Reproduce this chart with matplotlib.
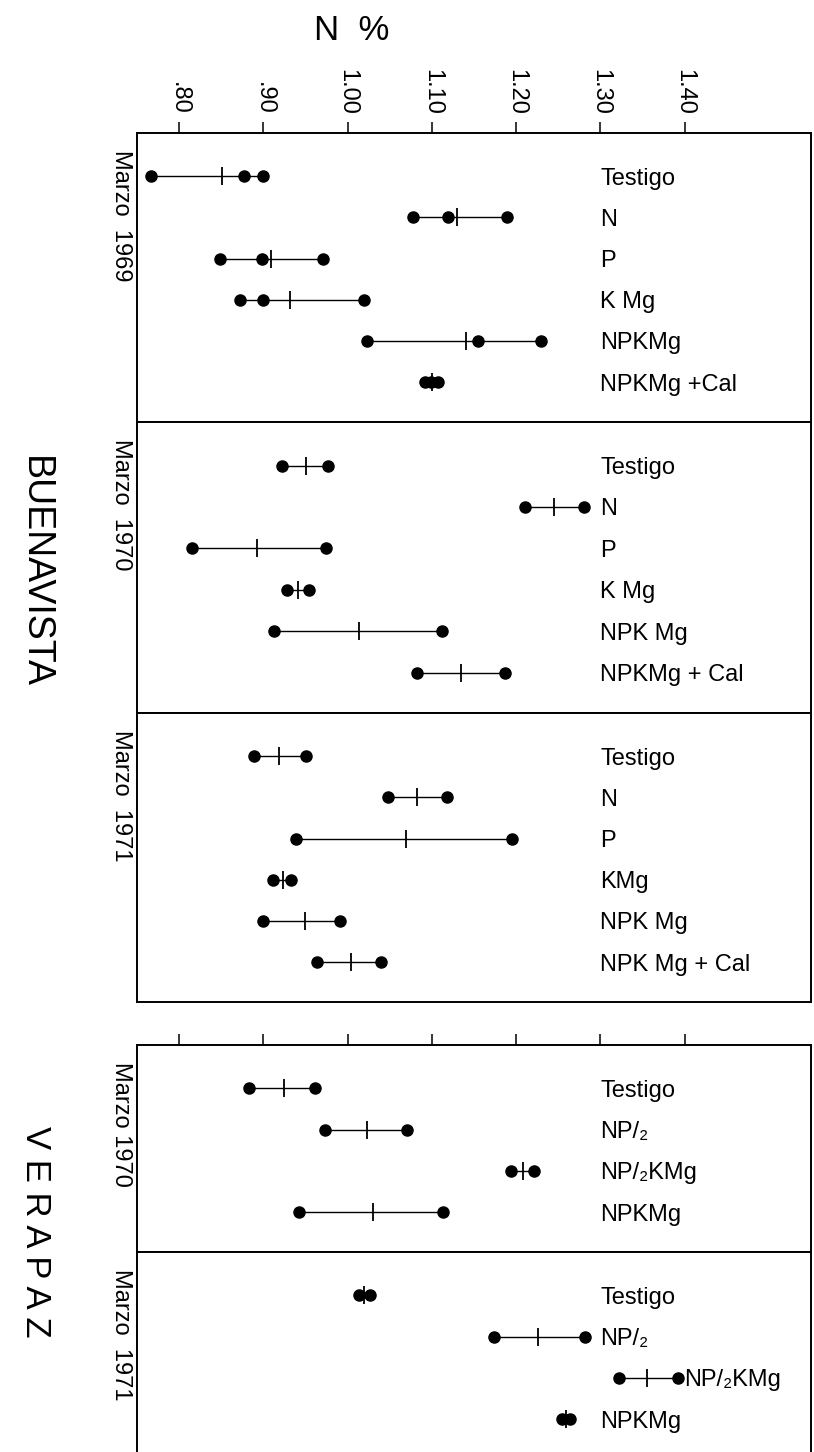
import matplotlib.pyplot as plt

plt.rcParams['font.family'] = ['Liberation Sans', 'DejaVu Sans']

# -----------------------------------------------------------------------------
# data (N % in leaves)

tick_values = [0.80, 0.90, 1.00, 1.10, 1.20, 1.30, 1.40]
tick_labels = ['.80', '.90', '1.00', '1.10', '1.20', '1.30', '1.40']

# Buenavista, Marzo 1969 (three replicates per treatment)
bv69_labels = ['Testigo', 'N', 'P', 'K Mg', 'NPKMg', 'NPKMg +Cal']
bv69_points = [[0.767, 0.877, 0.899],
               [1.078, 1.119, 1.189],
               [0.849, 0.898, 0.971],
               [0.872, 0.900, 1.019],
               [1.023, 1.155, 1.230],
               [1.092, 1.099, 1.107]]
bv69_means = [0.851, 1.130, 0.909, 0.932, 1.140, 1.100]

# Buenavista, Marzo 1970
bv70_labels = ['Testigo', 'N', 'P', 'K Mg', 'NPK Mg', 'NPKMg + Cal']
bv70_points = [[0.922, 0.977],
               [1.210, 1.281],
               [0.815, 0.974],
               [0.928, 0.954],
               [0.913, 1.112],
               [1.082, 1.187]]
bv70_means = [0.950, 1.245, 0.893, 0.941, 1.014, 1.134]

# Buenavista, Marzo 1971
bv71_labels = ['Testigo', 'N', 'P', 'KMg', 'NPK Mg', 'NPK Mg + Cal']
bv71_points = [[0.889, 0.950],
               [1.048, 1.118],
               [0.939, 1.195],
               [0.912, 0.933],
               [0.899, 0.991],
               [0.964, 1.040]]
bv71_means = [0.919, 1.082, 1.069, 0.923, 0.949, 1.004]

# Verapaz, Marzo 1970
vp70_labels = ['Testigo', 'NP/\u2082', 'NP/\u2082KMg', 'NPKMg']
vp70_points = [[0.883, 0.961],
               [0.973, 1.070],
               [1.194, 1.221],
               [0.942, 1.113]]
vp70_means = [0.924, 1.023, 1.208, 1.030]

# Verapaz, Marzo 1971
vp71_labels = ['Testigo', 'NP/\u2082', 'NP/\u2082KMg', 'NPKMg']
vp71_points = [[1.014, 1.027],
               [1.174, 1.282],
               [1.322, 1.392],
               [1.255, 1.264]]
vp71_means = [1.020, 1.226, 1.355, 1.259]


# -----------------------------------------------------------------------------
# figure

W_PX = 814
H_PX = 1452
fig = plt.figure(figsize=(W_PX / 100, H_PX / 100), dpi=100)

LEFT = 137 / W_PX
WIDTH = (811 - 137) / W_PX


def make_axes(top, bottom):
    return fig.add_axes([LEFT, 1 - bottom / H_PX, WIDTH, (bottom - top) / H_PX])


def draw_panel(ax, labels, points, means, ticks='none'):
    n = len(labels)
    for i in range(n):
        pts = points[i]
        ax.plot([min(pts), max(pts)], [i, i], color='black', lw=1.0, zorder=2)
        ax.plot(pts, [i] * len(pts), 'o', color='black', ms=8, zorder=3)
        ax.plot([means[i]], [i], marker='|', color='black', ms=13, mew=1.3, zorder=4)
        # label sits at 1.30 unless the bar runs past it
        lx = max(1.30, max(pts) + 0.008)
        ax.text(lx, i, labels[i], va='center_baseline', ha='left', fontsize=17)

    ax.set_xlim(0.75, 1.55)
    ax.set_ylim(n - 1 + 0.97, -1.05)
    ax.set_yticks([])
    for sp in ax.spines.values():
        sp.set_linewidth(1.4)

    if ticks == 'none':
        ax.set_xticks([])
    else:
        ax.xaxis.tick_top()
        ax.set_xticks(tick_values)
        if ticks == 'labels':
            ax.set_xticklabels(tick_labels, rotation=270)
        else:
            ax.set_xticklabels([])
        ax.tick_params(axis='x', direction='out', length=8, width=1.1,
                       labelsize=17, pad=5)


# Buenavista block
ax1 = make_axes(133, 422)
draw_panel(ax1, bv69_labels, bv69_points, bv69_means, ticks='labels')
ax2 = make_axes(422, 713)
draw_panel(ax2, bv70_labels, bv70_points, bv70_means)
ax3 = make_axes(713, 1002)
draw_panel(ax3, bv71_labels, bv71_points, bv71_means)

# Verapaz block (bottom box runs off the page)
ax4 = make_axes(1045, 1252)
draw_panel(ax4, vp70_labels, vp70_points, vp70_means, ticks='marks')
ax5 = make_axes(1252, 1459)
draw_panel(ax5, vp71_labels, vp71_points, vp71_means)

# year labels down the left side
years = [('Marzo  1969', 133), ('Marzo  1970', 422), ('Marzo  1971', 713),
         ('Marzo 1970', 1045), ('Marzo  1971', 1252)]
for txt, top in years:
    fig.text(121 / W_PX, 1 - (top + 17) / H_PX, txt, rotation=270,
             ha='center', va='top', fontsize=17)

# site names
fig.text(35 / W_PX, 1 - 572 / H_PX, 'BUENAVISTA', rotation=270,
         ha='center', va='center', fontsize=27)
fig.text(35 / W_PX, 1 - 1232 / H_PX, 'V E R A P A Z', rotation=270,
         ha='center', va='center', fontsize=25)

# axis title
fig.text(352 / W_PX, 1 - 30 / H_PX, 'N  %', ha='center', va='center', fontsize=25)

fig.savefig('out.png', dpi=100)
